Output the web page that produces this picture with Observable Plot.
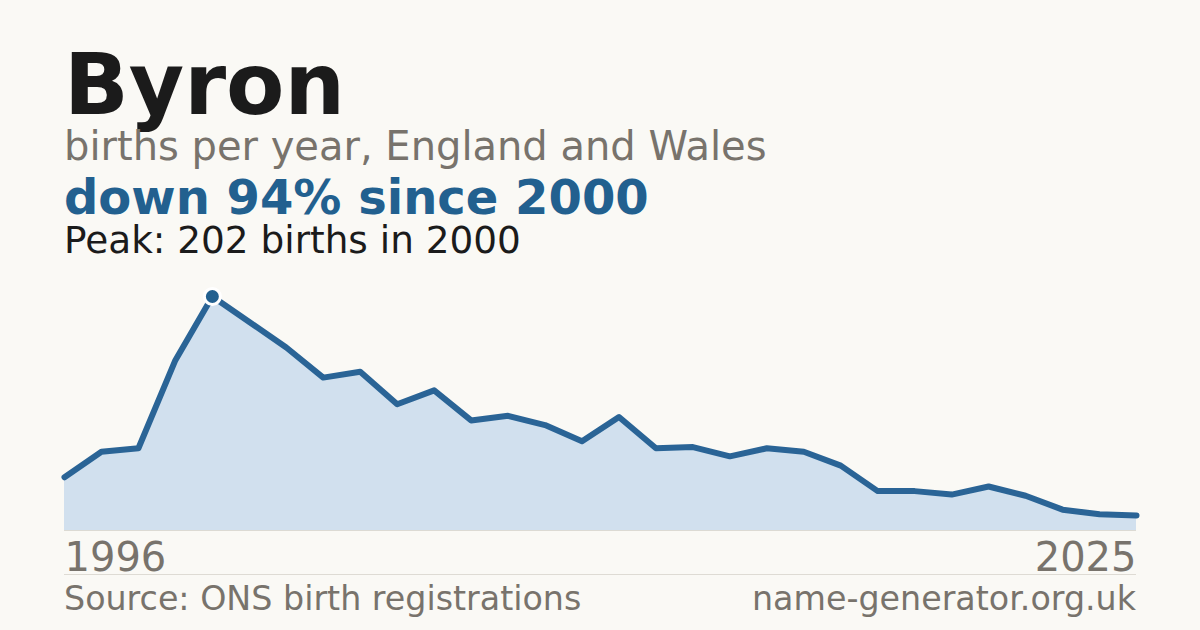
<!DOCTYPE html>
<html>
<head>
<meta charset="utf-8">
<script src="https://cdn.jsdelivr.net/npm/d3@7"></script>
<script src="https://cdn.jsdelivr.net/npm/@observablehq/plot@0.6"></script>
<style>
  html, body { margin: 0; padding: 0; }
  body { width: 1200px; height: 630px; background: #faf9f5; position: relative; overflow: hidden; font-family: "DejaVu Sans", sans-serif; }
  .t { position: absolute; left: 64px; line-height: 1; white-space: nowrap; }
  #title { top: 42px; font-size: 85px; font-weight: bold; color: #1b1b1b; }
  #sub { top: 126px; font-size: 40px; color: #78736c; }
  #delta { top: 173px; font-size: 48px; font-weight: bold; color: #22608f; }
  #peak { top: 221.5px; font-size: 37.4px; color: #1b1b1b; }
  #chart { position: absolute; left: 0; top: 280px; }
  #sep { position: absolute; left: 64px; top: 574px; width: 1072px; height: 1px; background: #dedbd4; }
  .foot { position: absolute; top: 582px; font-size: 33.3px; color: #78736c; line-height: 1; white-space: nowrap; }
  #src { left: 64px; }
  #site { right: 64px; }
</style>
</head>
<body>
<div class="t" id="title">Byron</div>
<div class="t" id="sub">births per year, England and Wales</div>
<div class="t" id="delta">down 94% since 2000</div>
<div class="t" id="peak">Peak: 202 births in 2000</div>
<div id="chart"></div>
<div id="sep"></div>
<div class="foot" id="src">Source: ONS birth registrations</div>
<div class="foot" id="site">name-generator.org.uk</div>
<script>
const years = [1996,1997,1998,1999,2000,2001,2002,2003,2004,2005,2006,2007,2008,2009,2010,2011,2012,2013,2014,2015,2016,2017,2018,2019,2020,2021,2022,2023,2024,2025];
const births = [46,68,71,147,202,180,158,132,137,109,121,95,99,91,77,98,71,72,64,71,68,56,34,34,31,38,30,18,14,13];
const peakYear = 2000;
const peakBirths = 202;
const endLabels = ["1996", "2025"];

const data = years.map((y, i) => ({year: y, births: births[i]}));
const peak = data.filter(d => d.year === peakYear);
const ends = [
  {year: years[0], label: endLabels[0]},
  {year: years[years.length - 1], label: endLabels[1]}
];

const chart = Plot.plot({
  width: 1200,
  height: 300,
  marginLeft: 64,
  marginRight: 64,
  marginTop: 16,
  marginBottom: 50,
  style: {background: "transparent", fontFamily: "DejaVu Sans, sans-serif"},
  x: {domain: [years[0], years[years.length - 1]], axis: null},
  y: {domain: [0, peakBirths], axis: null},
  marks: [
    Plot.areaY(data, {x: "year", y: "births", fill: "#d1e0ee"}),
    Plot.ruleY([0], {stroke: "#dcdad3", strokeWidth: 1}),
    Plot.lineY(data, {x: "year", y: "births", stroke: "#2a6496", strokeWidth: 6, strokeLinejoin: "round"}),
    Plot.dot(peak, {x: "year", y: "births", r: 8, fill: "#22608f", stroke: "#ffffff", strokeWidth: 3}),
    Plot.text(ends.slice(0, 1), {x: "year", y: () => 0, text: "label", textAnchor: "start", lineAnchor: "bottom", dy: 40, fontSize: 40, fill: "#78736c"}),
    Plot.text(ends.slice(1), {x: "year", y: () => 0, text: "label", textAnchor: "end", lineAnchor: "bottom", dy: 40, fontSize: 40, fill: "#78736c"})
  ]
});
document.getElementById("chart").appendChild(chart);
</script>
</body>
</html>
